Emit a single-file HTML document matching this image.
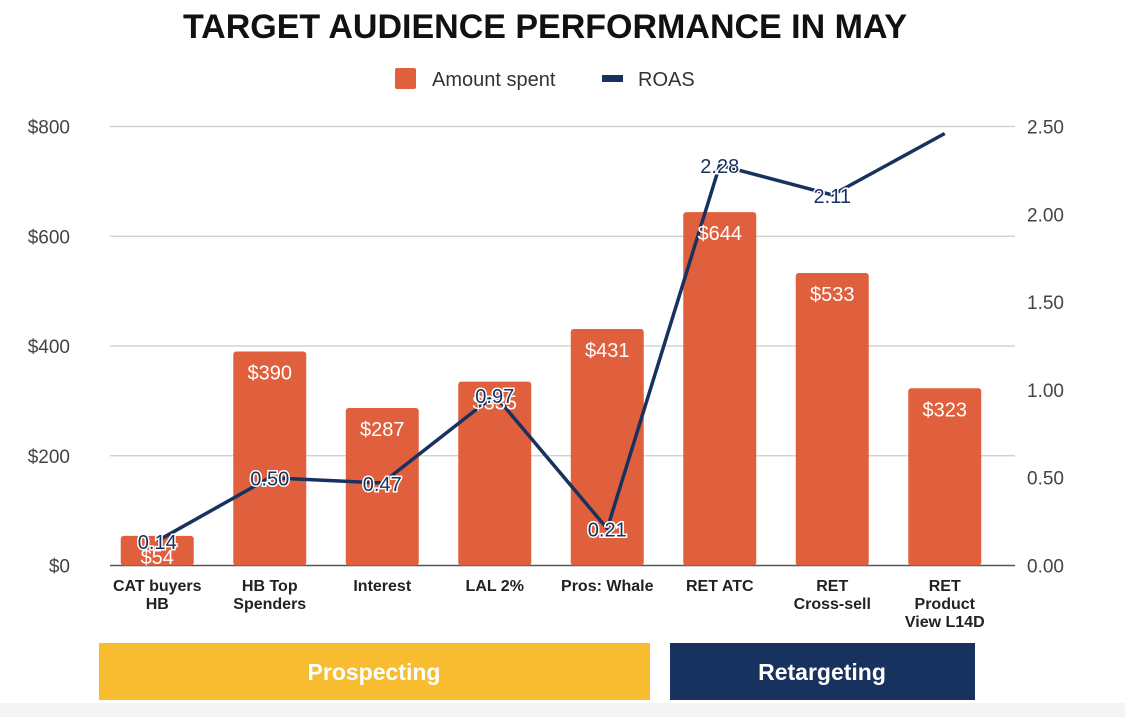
<!DOCTYPE html>
<html><head><meta charset="utf-8">
<style>
html,body{margin:0;padding:0;background:#fff;width:1125px;height:717px;overflow:hidden;font-family:"Liberation Sans",sans-serif}
</style></head>
<body>
<svg id="chart" width="1125" height="717" xmlns="http://www.w3.org/2000/svg">
<rect x="0" y="703" width="1125" height="14" fill="#f4f4f4"/>
<text x="545" y="38" text-anchor="middle" font-size="34" font-weight="bold" fill="#111">TARGET AUDIENCE PERFORMANCE IN MAY</text>
<g>
<rect x="395" y="68" width="21" height="21" rx="2" fill="#e0603d"/>
<text x="432" y="86" font-size="20" fill="#333">Amount spent</text>
<rect x="602" y="75" width="21" height="7" fill="#17325f"/>
<text x="638" y="86" font-size="20" fill="#333">ROAS</text>
</g>
<g id="grid"></g><g id="bars"></g><g id="line"></g><g id="labels"></g>
<g>
<rect x="99" y="643" width="551" height="57" fill="#f8bc30"/>
<text x="374" y="680" text-anchor="middle" font-size="23" font-weight="bold" fill="#fff">Prospecting</text>
<rect x="670" y="643" width="305" height="57" fill="#17325f"/>
<text x="822" y="680" text-anchor="middle" font-size="23" font-weight="bold" fill="#fff">Retargeting</text>
</g>
</svg>
<script>
const categories=[["CAT buyers","HB"],["HB Top","Spenders"],["Interest"],["LAL 2%"],["Pros: Whale"],["RET ATC"],["RET","Cross-sell"],["RET","Product","View L14D"]];
const amounts=[54,390,287,335,431,644,533,323];
const roas=[0.14,0.50,0.47,0.97,0.21,2.28,2.11,2.46];
const roasLabels=["0.14","0.50","0.47","0.97","0.21","2.28","2.11",""];
const leftTicks=[0,200,400,600,800];
const rightTicks=["0.00","0.50","1.00","1.50","2.00","2.50"];
const NS="http://www.w3.org/2000/svg";
const Y0=565.5,Y1=126.5,X0=101,BW=112.5;
const yL=v=>Y0-(v/800)*(Y0-Y1);
const yR=v=>Y0-(v/2.5)*(Y0-Y1);
const xC=i=>X0+BW*(i+0.5);
function mk(tag,attrs,parent){const e=document.createElementNS(NS,tag);for(const k in attrs)e.setAttribute(k,attrs[k]);parent.appendChild(e);return e;}
const grid=document.getElementById('grid'),bars=document.getElementById('bars'),line=document.getElementById('line'),labels=document.getElementById('labels');
leftTicks.forEach((t,i)=>{
  const y=yL(t);
  const g=mk('line',{x1:110,x2:1015,y1:y,y2:y,stroke:i===0?'#555':'#ccc','stroke-width':i===0?1.5:1.2},grid);
  
  
  const tx=mk('text',{x:70,y:y+7,'text-anchor':'end','font-size':19,fill:'#444'},grid);
  tx.textContent='$'+t;
  
  
});
rightTicks.forEach(t=>{
  const tx=mk('text',{x:1027,y:yR(parseFloat(t))+7,'font-size':19,fill:'#444'},grid);
  tx.textContent=t;
  
  
});
amounts.forEach((v,i)=>{
  const r=mk('rect',{x:xC(i)-36.5,y:yL(v),width:73,height:Y0-yL(v),rx:3,fill:'#e0603d'},bars);
  
  
  const t=mk('text',{x:xC(i),y:yL(v)+28,'text-anchor':'middle','font-size':20,fill:'#fff'},labels);
  t.textContent='$'+v;
  
  
  const lines=categories[i];
  lines.forEach((s,j)=>{
    const c=mk('text',{x:xC(i),y:591+j*18,'text-anchor':'middle','font-size':16,'font-weight':'bold',fill:'#222'},labels);
    c.textContent=s;
    
    
  });
});
const pts=roas.map((v,i)=>xC(i)+','+yR(v)).join(' ');
const pl=mk('polyline',{points:pts,fill:'none',stroke:'#17325f','stroke-width':3.5,'stroke-linejoin':'round'},line);


roas.forEach((v,i)=>{
  if(!roasLabels[i])return;
  const t=mk('text',{x:xC(i),y:yR(v)+8,'text-anchor':'middle','font-size':20,fill:'#17325f',stroke:'#fff','stroke-width':3,'paint-order':'stroke'},labels);
  t.textContent=roasLabels[i];
  
  
});
</script>
</body></html>
